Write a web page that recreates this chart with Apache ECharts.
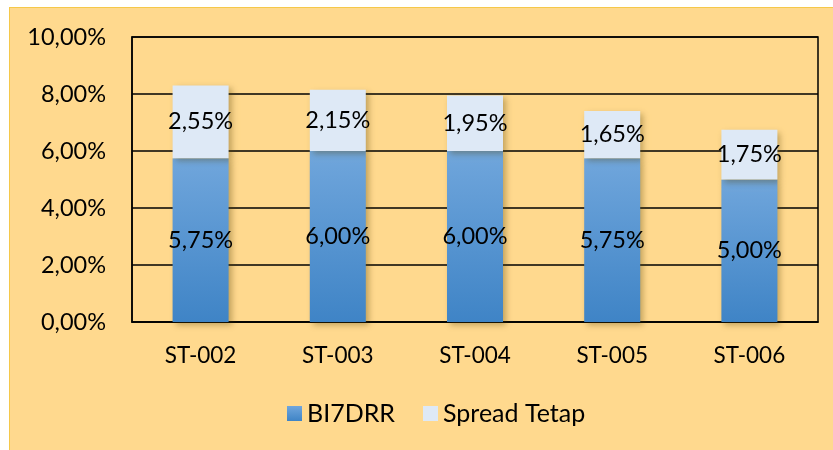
<!DOCTYPE html>
<html>
<head>
<meta charset="utf-8">
<script src="https://cdn.jsdelivr.net/npm/echarts@6/dist/echarts.min.js"></script>
<style>
html,body{margin:0;padding:0;background:#fff;}
#bg{position:absolute;left:9px;top:7px;width:840px;height:460px;background:#FFD98E;border:1px solid #F5C84A;box-sizing:border-box;}
#chart{position:absolute;left:0;top:0;width:833px;height:450px;}
</style>
</head>
<body>
<div id="bg"></div>
<div id="chart"></div>
<script>
const categories = ['ST-002','ST-003','ST-004','ST-005','ST-006'];
const bi7drr = [5.75, 6.00, 6.00, 5.75, 5.00];
const spread = [2.55, 2.15, 1.95, 1.65, 1.75];
const seriesNames = ['BI7DRR','Spread Tetap'];

const fmt = v => v.toFixed(2).replace('.', ',') + '%';
const FONT = 'Lato, "Open Sans", sans-serif';
const shadow = {shadowBlur: 6, shadowOffsetX: 3, shadowOffsetY: 3, shadowColor: 'rgba(80,60,0,0.35)'};

const chart = echarts.init(document.getElementById('chart'));
chart.setOption({
  backgroundColor: 'transparent',
  animation: false,
  grid: {left: 132, top: 37, right: 15, bottom: 128, show: true, borderColor: '#000', borderWidth: 1.5, backgroundColor: 'transparent'},
  legend: {
    top: 396, left: 282, itemWidth: 15, itemHeight: 15, itemGap: 28,
    icon: 'rect',
    textStyle: {fontFamily: FONT, fontSize: 25, color: '#000'},
    data: seriesNames
  },
  xAxis: {
    type: 'category', data: categories,
    axisLine: {lineStyle: {color: '#000', width: 1.5}},
    axisTick: {show: false},
    axisLabel: {fontFamily: FONT, fontSize: 22.5, color: '#000', margin: 22}
  },
  yAxis: {
    type: 'value', min: 0, max: 10, interval: 2,
    axisLine: {show: true, lineStyle: {color: '#000', width: 1.5}},
    axisTick: {show: false},
    splitLine: {lineStyle: {color: '#000', width: 1.5}},
    axisLabel: {fontFamily: FONT, fontSize: 23.5, color: '#000', margin: 26, formatter: v => fmt(v)}
  },
  series: [
    {
      name: seriesNames[0], type: 'bar', stack: 's', barWidth: 56,
      data: bi7drr,
      itemStyle: Object.assign({
        color: new echarts.graphic.LinearGradient(0,0,0,1,[{offset:0,color:'#70A6DC'},{offset:1,color:'#3F84C6'}])
      }, shadow),
      label: {show: true, position: 'inside', fontFamily: FONT, fontSize: 23.5, color: '#000', formatter: p => fmt(p.value)}
    },
    {
      name: seriesNames[1], type: 'bar', stack: 's', barWidth: 56,
      data: spread,
      itemStyle: Object.assign({color: '#DEE9F6'}, shadow),
      label: {show: true, position: 'inside', fontFamily: FONT, fontSize: 23.5, color: '#000', formatter: p => fmt(p.value)}
    }
  ]
});
</script>
</body>
</html>
